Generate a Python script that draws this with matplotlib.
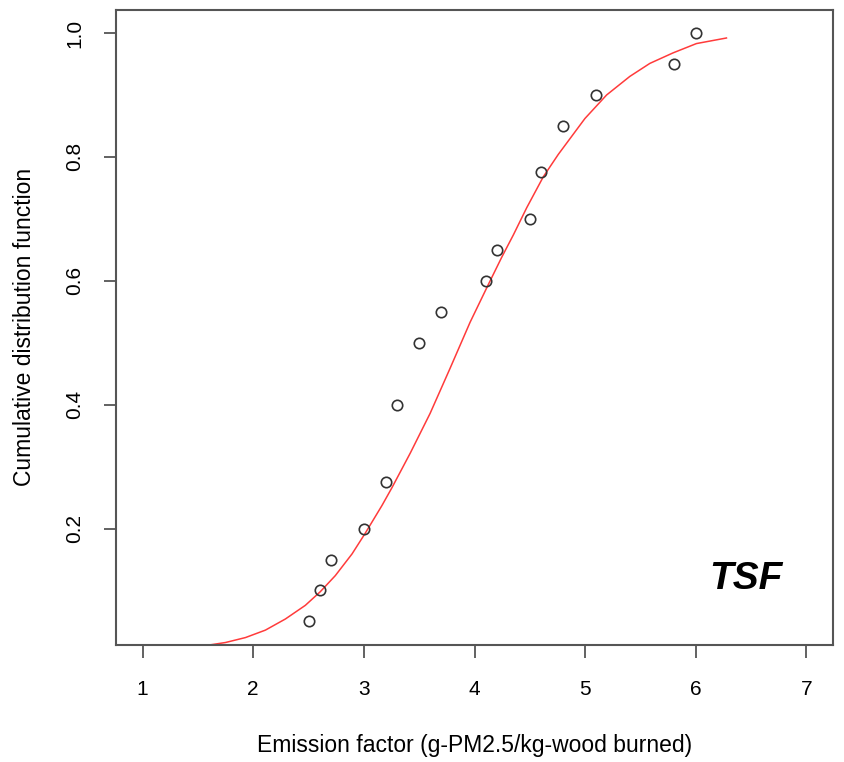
import numpy as np
import matplotlib
matplotlib.use('Agg')
import matplotlib.pyplot as plt

plt.rcParams['font.family'] = ['Liberation Sans', 'DejaVu Sans']

# observed emission factors and their empirical CDF
ef = [2.5, 2.6, 2.7, 3.0, 3.2, 3.3, 3.5, 3.7, 4.1, 4.2, 4.5, 4.6, 4.8, 5.1, 5.8, 6.0]
cdf = [0.05, 0.10, 0.15, 0.20, 0.275, 0.40, 0.50, 0.55, 0.60, 0.65, 0.70, 0.775, 0.85, 0.90, 0.95, 1.00]

# fitted curve
fit_x = [1.530, 1.749, 1.930, 2.110, 2.291, 2.471, 2.606, 2.742, 2.893, 3.011,
         3.163, 3.254, 3.420, 3.599, 3.780, 3.960, 4.125, 4.246, 4.351, 4.472,
         4.622, 4.757, 4.998, 5.194, 5.404, 5.585, 5.795, 6.006, 6.277]
fit_y = [0.010, 0.016, 0.024, 0.036, 0.054, 0.076, 0.098, 0.124, 0.159, 0.192,
         0.237, 0.266, 0.322, 0.386, 0.459, 0.533, 0.594, 0.638, 0.674, 0.718,
         0.768, 0.804, 0.862, 0.900, 0.930, 0.951, 0.968, 0.983, 0.992]

xticks = [1, 2, 3, 4, 5, 6, 7]
yticks = [0.2, 0.4, 0.6, 0.8, 1.0]

fig = plt.figure(figsize=(8.44, 7.62), dpi=100)
ax = fig.add_axes([116 / 844, 1 - 645 / 762, (833 - 116) / 844, (645 - 9.5) / 762])

ax.plot(fit_x, fit_y, color='#ff3b3b', lw=1.1)
ax.plot(ef, cdf, 'o', mfc='none', mec='#333333', mew=1.2, ms=7.5)

# R-style 4% extension
ax.set_xlim(1 - 0.24, 7 + 0.24)
ax.set_ylim(0.05 - 0.038, 1.0 + 0.038)

ax.set_xticks(xticks)
ax.set_xticklabels([str(t) for t in xticks])
ax.set_yticks(yticks)
ax.set_yticklabels(['%.1f' % t for t in yticks], rotation=90, va='center')

for s in ax.spines.values():
    s.set_color('#555555')
    s.set_linewidth(1.5)
ax.tick_params(length=9, width=1.3, color='#555555', labelsize=15)
ax.tick_params(axis='x', pad=16.5)
ax.tick_params(axis='y', pad=14)

ax.set_xlabel('Emission factor (g-PM2.5/kg-wood burned)', fontsize=16.5, labelpad=25)
ax.set_ylabel('Cumulative distribution function', fontsize=16.5, labelpad=21)

ax.text(746, 762 - 579, 'TSF', transform=None, fontsize=28, fontweight='bold',
        fontstyle='italic', ha='center', va='center')

fig.savefig('out.png', dpi=100)
